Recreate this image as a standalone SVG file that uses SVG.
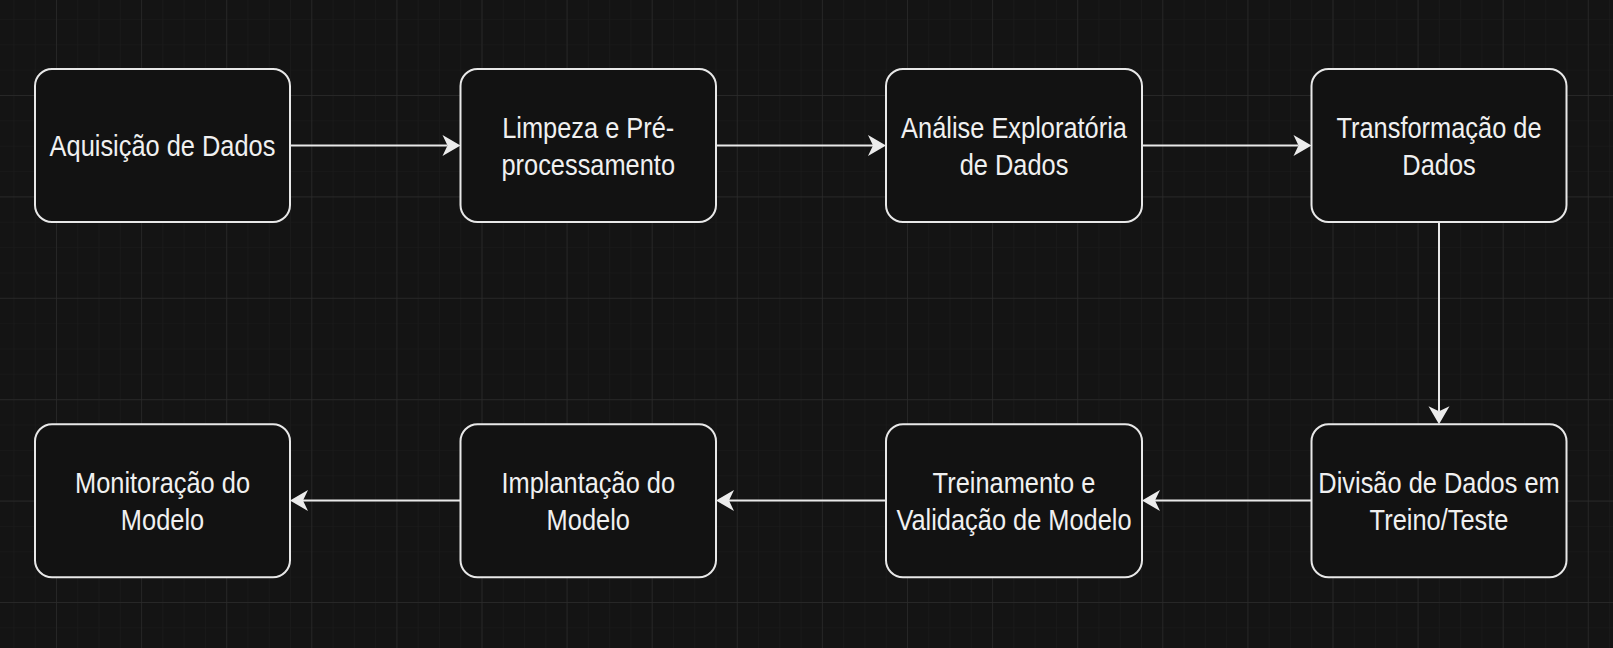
<svg xmlns="http://www.w3.org/2000/svg" width="1613" height="648" viewBox="0 0 1613 648">
<style>
.box{fill:#121212;stroke:#e8e8e8;stroke-width:2}
.lbl{font-family:"Liberation Sans",Arial,sans-serif;font-size:25.4px;fill:#f0f0f0;text-anchor:middle}
.edge{fill:none;stroke:#e8e8e8;stroke-width:2;marker-end:url(#arr)}
</style>
<defs>
<pattern id="minor" patternUnits="userSpaceOnUse" x="56" y="95" width="21.275" height="25.35">
<path d="M0,0 V25.35 M0,0 H21.275" stroke="#1c1c1c" stroke-width="1.2" fill="none"/>
</pattern>
<pattern id="major" patternUnits="userSpaceOnUse" x="56" y="95" width="85.1" height="101.4">
<path d="M0,0 V101.4 M0,0 H85.1" stroke="#2b2b2b" stroke-width="1.3" fill="none"/>
</pattern>
<marker id="arr" markerUnits="userSpaceOnUse" viewBox="-1 -12 21 24" markerWidth="21" markerHeight="24" refX="5" refY="0" orient="auto">
<path d="M18,0 L0,-10.5 L5,0 L0,10.5 Z" fill="#ececec"/>
</marker>
</defs>
<rect width="1613" height="648" fill="#141414"/>
<rect width="1613" height="648" fill="url(#minor)"/>
<rect width="1613" height="648" fill="url(#major)"/>
<g id="connectors">
<path class="edge" d="M290,145.5 H447.5"/>
<path class="edge" d="M716,145.5 H873"/>
<path class="edge" d="M1142,145.5 H1298.5"/>
<path class="edge" d="M1439,222 V411.3"/>
<path class="edge" d="M1311.5,500.5 H1155"/>
<path class="edge" d="M886,500.5 H729"/>
<path class="edge" d="M460.5,500.5 H303"/>
</g>
<g id="n1">
<rect class="box" x="35" y="69" width="255" height="153" rx="17"/>
<g transform="translate(162.5,145.5) scale(1,1.15)"><text class="lbl" x="0" y="9.1">Aquisição de Dados</text></g>
</g>
<g id="n2">
<rect class="box" x="460.5" y="69" width="255.5" height="153" rx="17"/>
<g transform="translate(588.25,145.5) scale(1,1.15)"><text class="lbl" x="0" y="-6.8">Limpeza e Pré-</text><text class="lbl" x="0" y="25.8">processamento</text></g>
</g>
<g id="n3">
<rect class="box" x="886" y="69" width="256" height="153" rx="17"/>
<g transform="translate(1014,145.5) scale(1,1.15)"><text class="lbl" x="0" y="-6.8">Análise Exploratória</text><text class="lbl" x="0" y="25.8">de Dados</text></g>
</g>
<g id="n4">
<rect class="box" x="1311.5" y="69" width="255" height="153" rx="17"/>
<g transform="translate(1439,145.5) scale(1,1.15)"><text class="lbl" x="0" y="-6.8">Transformação de</text><text class="lbl" x="0" y="25.8">Dados</text></g>
</g>
<g id="n8">
<rect class="box" x="1311.5" y="424.3" width="255" height="153" rx="17"/>
<g transform="translate(1439,500.8) scale(1,1.15)"><text class="lbl" x="0" y="-6.8">Divisão de Dados em</text><text class="lbl" x="0" y="25.8">Treino/Teste</text></g>
</g>
<g id="n7">
<rect class="box" x="886" y="424.3" width="256" height="153" rx="17"/>
<g transform="translate(1014,500.8) scale(1,1.15)"><text class="lbl" x="0" y="-6.8">Treinamento e</text><text class="lbl" x="0" y="25.8">Validação de Modelo</text></g>
</g>
<g id="n6">
<rect class="box" x="460.5" y="424.3" width="255.5" height="153" rx="17"/>
<g transform="translate(588.25,500.8) scale(1,1.15)"><text class="lbl" x="0" y="-6.8">Implantação do</text><text class="lbl" x="0" y="25.8">Modelo</text></g>
</g>
<g id="n5">
<rect class="box" x="35" y="424.3" width="255" height="153" rx="17"/>
<g transform="translate(162.5,500.8) scale(1,1.15)"><text class="lbl" x="0" y="-6.8">Monitoração do</text><text class="lbl" x="0" y="25.8">Modelo</text></g>
</g>
</svg>
